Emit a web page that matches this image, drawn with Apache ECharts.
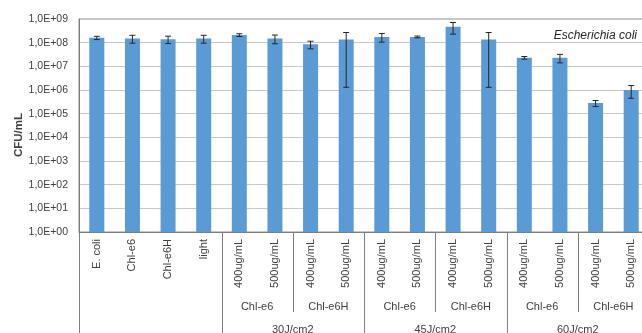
<!DOCTYPE html>
<html>
<head>
<meta charset="utf-8">
<script src="https://cdn.jsdelivr.net/npm/echarts@6/dist/echarts.min.js"></script>
<style>
html,body{margin:0;padding:0;background:#fff}
#chart{width:642px;height:333px}
</style>
</head>
<body>
<div id="chart"></div>
<script>
// level 1 categories (one per bar)
var categories = ['E. coli','Chl-e6','Chl-e6H','light',
  '400ug/mL','500ug/mL','400ug/mL','500ug/mL',
  '400ug/mL','500ug/mL','400ug/mL','500ug/mL',
  '400ug/mL','500ug/mL','400ug/mL','500ug/mL'];
// mean CFU/mL and standard deviation
var cfu = [1.6e8,1.5e8,1.4e8,1.5e8, 2.1e8,1.5e8,8.5e7,1.35e8, 1.75e8,1.75e8,4.7e8,1.35e8, 2.3e7,2.3e7,2.8e5,1.0e6];
var sd  = [2.5e7,5.5e7,4.8e7,5.5e7, 2.8e7,6e7,3e7,1.337e8, 7e7,1.5e7,2.4e8,1.337e8, 3e6,9e6,8e4,5.5e5];
// level 2 and level 3 group labels (start index in categories)
var level2Labels = ['Chl-e6','Chl-e6H','Chl-e6','Chl-e6H','Chl-e6','Chl-e6H'];
var level2Start = [4,6,8,10,12,14];
var level3Labels = ['30J/cm2','45J/cm2','60J/cm2'];
var level3Start = [4,8,12];

var font = 'Liberation Sans';
var txt = '#404040';

var errData = cfu.map(function (v, i) { return [i, v - sd[i], v + sd[i]]; });

var chart = echarts.init(document.getElementById('chart'));
var option = {
  animation: false,
  title: {
    text: 'Escherichia coli',
    right: 0, top: 25,
    textStyle: {fontFamily: font, fontStyle: 'italic', fontWeight: 'normal', fontSize: 12, color: '#262626'}
  },
  // plot area runs past the right edge of the picture, as in the original
  grid: {left: 79, top: 19, bottom: 101, width: 570, outerBoundsMode: 'none',
    show: true, borderColor: '#8c8c8c', borderWidth: 1},
  xAxis: {
    type: 'category',
    data: categories,
    axisLine: {lineStyle: {color: '#7f7f7f'}},
    axisTick: {show: false},
    axisLabel: {rotate: 90, interval: 0, margin: 7, fontFamily: font, fontSize: 11, color: txt}
  },
  yAxis: {
    type: 'log', logBase: 10, min: 1, max: 1e9,
    name: 'CFU/mL', nameLocation: 'middle', nameGap: 54, nameRotate: 90, nameMoveOverlap: false,
    nameTextStyle: {fontFamily: font, fontWeight: 'bold', fontSize: 11.5, color: txt, padding: [0, 19, 0, 0]},
    axisLine: {show: true, lineStyle: {color: '#7f7f7f'}},
    axisTick: {show: false},
    splitLine: {lineStyle: {color: '#c8c8c8'}},
    axisLabel: {
      fontFamily: font, fontSize: 10.5, color: txt, margin: 11,
      formatter: function (v) {
        var e = Math.round(Math.log10(v));
        return '1,0E+' + (e < 10 ? '0' : '') + e;
      }
    }
  },
  series: [{
    type: 'bar',
    data: cfu,
    barWidth: 15,
    itemStyle: {color: '#5b9bd5'}
  }, {
    type: 'custom',
    data: errData,
    z: 5,
    renderItem: function (params, api) {
      var x = api.coord([api.value(0), api.value(1)])[0];
      var lo = api.coord([api.value(0), api.value(1)])[1];
      var hi = api.coord([api.value(0), api.value(2)])[1];
      var st = {stroke: '#262626', lineWidth: 1};
      return {type: 'group', children: [
        {type: 'line', shape: {x1: x, y1: lo, x2: x, y2: hi}, style: st},
        {type: 'line', shape: {x1: x - 3, y1: lo, x2: x + 3, y2: lo}, style: st},
        {type: 'line', shape: {x1: x - 3, y1: hi, x2: x + 3, y2: hi}, style: st}
      ]};
    }
  }]
};
chart.setOption(option);

// multi-level category axis drawn from the axis scale
var c0 = chart.convertToPixel({xAxisIndex: 0}, 0);
var step = chart.convertToPixel({xAxisIndex: 0}, 1) - c0;
var yb = chart.convertToPixel({yAxisIndex: 0}, 1);
function edge(k) { return Math.round(c0 + (k - 0.5) * step) + 0.5; }
var g = [];
var lineSt = {stroke: '#7f7f7f', lineWidth: 1};
[0].concat(level3Start).forEach(function (k) {
  g.push({type: 'line', shape: {x1: edge(k), y1: yb, x2: edge(k), y2: 333}, style: lineSt});
});
level2Start.forEach(function (k, i) {
  if (level3Start.indexOf(k) < 0) {
    g.push({type: 'line', shape: {x1: edge(k), y1: yb, x2: edge(k), y2: yb + 80}, style: lineSt});
  }
  g.push({type: 'text', x: c0 + (k + 0.5) * step, y: yb + 75,
    style: {text: level2Labels[i], font: '11px "' + font + '"', fill: txt, align: 'center', verticalAlign: 'middle'}});
});
level3Start.forEach(function (k, i) {
  g.push({type: 'text', x: c0 + (k + 1.5) * step, y: yb + 98,
    style: {text: level3Labels[i], font: '11px "' + font + '"', fill: txt, align: 'center', verticalAlign: 'middle'}});
});
chart.setOption({graphic: g});
</script>
</body>
</html>
